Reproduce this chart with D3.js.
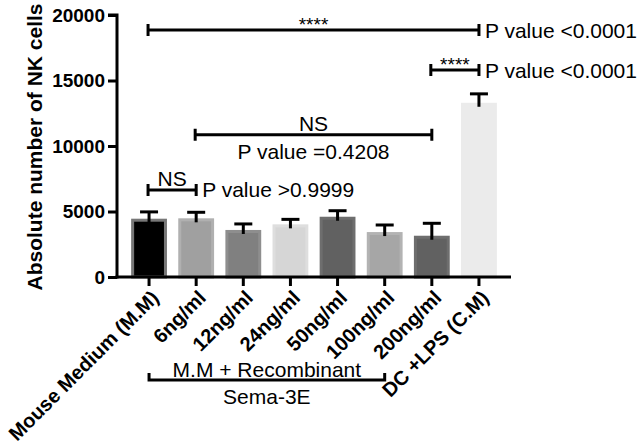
<!DOCTYPE html>
<html>
<head>
<meta charset="utf-8">
<script src="https://cdn.jsdelivr.net/npm/d3@7"></script>
<style>
  body { margin: 0; background: #fff; }
  text { font-family: "Liberation Sans", Arial, sans-serif; }
</style>
</head>
<body>
<svg id="chart" width="641" height="446"></svg>
<script>
// data
const categories = ['Mouse Medium (M.M)', '6ng/ml', '12ng/ml', '24ng/ml', '50ng/ml', '100ng/ml', '200ng/ml', 'DC +LPS (C.M)'];
const means = [4450, 4480, 3590, 4020, 4600, 3430, 3150, 13300];
const errors = [520, 460, 460, 380, 460, 540, 950, 680];
const fills = ['#000000', '#a0a0a0', '#808080', '#d6d6d6', '#616161', '#a6a6a6', '#616161', '#ebebeb'];
const strokes = ['#777777', '#b0b0b0', '#8e8e8e', '#dedede', '#6e6e6e', '#b3b3b3', '#6e6e6e', '#ebebeb'];
const yTicks = [0, 5000, 10000, 15000, 20000];

// significance brackets: from/to bar index, height in data units
const brackets = [
  { from: 0, to: 7, y: 18850, above: '****', side: 'P value <0.0001' },
  { from: 6, to: 7, y: 15800, above: '****', side: 'P value <0.0001' },
  { from: 1, to: 6, y: 10850, above: 'NS', below: 'P value =0.4208' },
  { from: 0, to: 1, y: 6650, above: 'NS', side: 'P value >0.9999' }
];

const svg = d3.select('#chart');
const plotLeft = 117, plotRight = 511, plotTop = 15, base = 277;

const x = d3.scaleBand()
  .domain(categories)
  .range([plotLeft, plotRight])
  .paddingInner(0.24)
  .paddingOuter(0.3);

const y = d3.scaleLinear()
  .domain([0, 20000])
  .range([base, plotTop]);

const cx = i => x(categories[i]) + x.bandwidth() / 2;

// bars
svg.selectAll('rect.bar')
  .data(means)
  .enter().append('rect')
  .attr('class', 'bar')
  .attr('x', (d, i) => x(categories[i]) + 1.5)
  .attr('y', d => y(d) + 1.5)
  .attr('width', x.bandwidth() - 3)
  .attr('height', d => base - y(d) - 1.5)
  .attr('fill', (d, i) => fills[i])
  .attr('stroke', (d, i) => strokes[i])
  .attr('stroke-width', 3);

// error bars (upper only)
const err = svg.append('g').attr('stroke', '#000').attr('stroke-width', 3);
means.forEach((m, i) => {
  err.append('line')
    .attr('x1', cx(i)).attr('x2', cx(i))
    .attr('y1', y(m) + 4).attr('y2', y(m + errors[i]));
  err.append('line')
    .attr('x1', cx(i) - 9).attr('x2', cx(i) + 9)
    .attr('y1', y(m + errors[i])).attr('y2', y(m + errors[i]));
});

// axes
const yAxis = svg.append('g')
  .attr('transform', `translate(${plotLeft},0)`)
  .call(d3.axisLeft(y).tickValues(yTicks).tickFormat(d3.format('d')).tickSize(9).tickPadding(3));

const xAxis = svg.append('g')
  .attr('transform', `translate(0,${base})`)
  .call(d3.axisBottom(x).tickSize(9).tickSizeOuter(0).tickFormat(''));

[yAxis, xAxis].forEach(g => {
  g.select('.domain').attr('stroke', '#000').attr('stroke-width', 3);
  g.selectAll('.tick line').attr('stroke', '#000').attr('stroke-width', 3);
});
yAxis.select('.domain').attr('d', `M-9,${plotTop}H0V${base + 1.5}`);
xAxis.select('.domain').attr('d', `M${plotLeft - 1.5},0H${plotRight}`);

yAxis.selectAll('.tick text')
  .attr('fill', '#000')
  .style('font-size', '19px')
  .style('font-weight', 'bold')
  .style('font-family', '"Liberation Sans", Arial, sans-serif');

// rotated category labels
svg.append('g').selectAll('text')
  .data(categories)
  .enter().append('text')
  .attr('transform', (d, i) => `translate(${cx(i) + 6},${base + 17}) rotate(-45)`)
  .attr('text-anchor', 'end')
  .attr('dy', '0.35em')
  .style('font-size', '20px')
  .style('font-weight', 'bold')
  .text(d => d);

// y axis title
svg.append('text')
  .attr('transform', `translate(42,${(plotTop + base) / 2 + 1}) rotate(-90)`)
  .attr('text-anchor', 'middle')
  .style('font-size', '21px')
  .style('font-weight', 'bold')
  .text('Absolute number of NK cells');

// brackets
const br = svg.append('g');
brackets.forEach(b => {
  const x1 = cx(b.from) - 1, x2 = cx(b.to), yy = y(b.y);
  br.append('path')
    .attr('d', `M${x1},${yy - 6}V${yy + 6}M${x1},${yy}H${x2}M${x2},${yy - 6}V${yy + 6}`)
    .attr('fill', 'none').attr('stroke', '#000').attr('stroke-width', 3);
  br.append('text')
    .attr('x', (x1 + x2) / 2).attr('y', b.above === 'NS' ? yy - 4 : yy + 1)
    .attr('text-anchor', 'middle')
    .style('font-size', b.above === 'NS' ? '21px' : '19px')
    .text(b.above);
  if (b.side) {
    br.append('text')
      .attr('x', x2 + 6).attr('y', yy)
      .attr('dy', '0.36em')
      .style('font-size', '21px')
      .text(b.side);
  }
  if (b.below) {
    br.append('text')
      .attr('x', (x1 + x2) / 2).attr('y', yy + 24)
      .attr('text-anchor', 'middle')
      .style('font-size', '21px')
      .text(b.below);
  }
});

// group bracket under the axis
const gx1 = cx(0), gx2 = cx(5), gy = 380;
svg.append('path')
  .attr('d', `M${gx1},${gy - 7}V${gy}H${gx2}V${gy - 7}`)
  .attr('fill', 'none').attr('stroke', '#000').attr('stroke-width', 3);
svg.append('text')
  .attr('x', (gx1 + gx2) / 2).attr('y', gy - 3)
  .attr('text-anchor', 'middle')
  .style('font-size', '21px')
  .text('M.M + Recombinant');
svg.append('text')
  .attr('x', (gx1 + gx2) / 2).attr('y', gy + 24)
  .attr('text-anchor', 'middle')
  .style('font-size', '21px')
  .text('Sema-3E');
</script>
</body>
</html>
